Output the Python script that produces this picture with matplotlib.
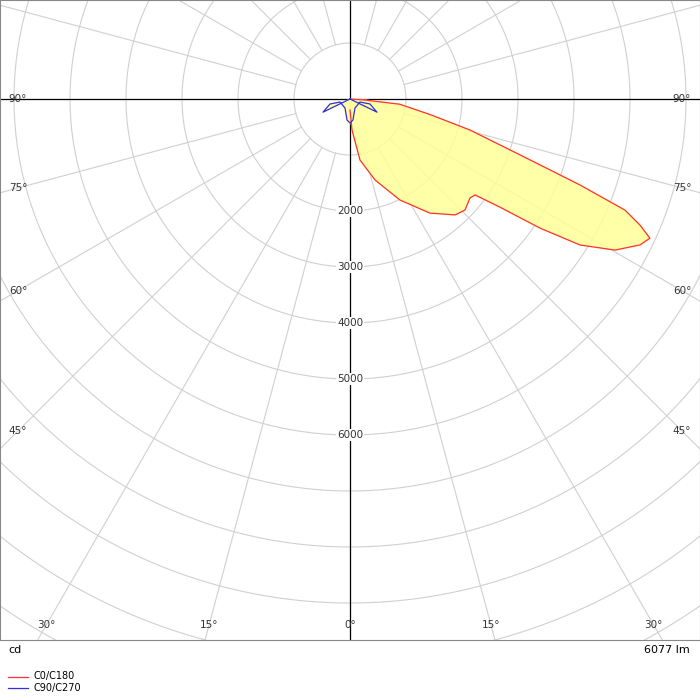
import numpy as np
import matplotlib
matplotlib.use("Agg")
import matplotlib.pyplot as plt

# C0/C180 curve: angle from nadir (deg, + = right), intensity (cd)
c0_angles = [0, 86, 84, 79, 75.5, 71.8, 69.5, 68, 66.5, 65.1, 63.3, 60.3, 57.6, 55.8, 54.2,
             52.5, 50.5, 46, 42.2, 35, 26.3, 17.2, 9.3, 3.7, 0]
c0_cd = [0, 268, 893, 1457, 2213, 3196, 4386, 5296, 5646, 5904, 5798, 5446, 4865, 4101, 3300,
         2814, 2778, 2854, 2794, 2487, 2012, 1514, 1104, 554, 196]
# C90/C270 curve
c90_angles = [-90, -64, -76, -73, -29, -8, 0, 8, 29, 73, 76, 64, 90]
c90_cd = [0, 536, 368, 186, 184, 379, 429, 379, 184, 186, 368, 536, 0]
ring_labels = [2000, 3000, 4000, 5000, 6000]
angle_labels = [90, 75, 60, 45, 30, 15, 0]

S = 1000 / 56.0  # cd per pixel
W, H = 700, 640
cx, cy = 350, 99

fig = plt.figure(figsize=(7, 7), dpi=100)
ax = fig.add_axes([0, 60 / 700, 1, 640 / 700])
ax.set_xlim(-cx * S, (W - cx) * S)
ax.set_ylim(-(H - cy) * S, cy * S)
ax.set_aspect('auto')
ax.set_xticks([]); ax.set_yticks([])
for s in ax.spines.values():
    s.set_color('#888888')

def xy(a, r):
    a = np.radians(np.asarray(a, float))
    r = np.asarray(r, float)
    return r * np.sin(a), -r * np.cos(a)

gc = '#d0d0d0'
for r in range(1000, 16000, 1000):
    t = np.linspace(0, 2 * np.pi, 400)
    ax.plot(r * np.cos(t), r * np.sin(t), color=gc, lw=0.8, zorder=1)
for a in range(0, 360, 15):
    x0, y0 = xy(a, 1000); x1, y1 = xy(a, 20000)
    ax.plot([x0, x1], [y0, y1], color=gc, lw=0.8, zorder=1)
ax.axhline(0, color='black', lw=0.9, zorder=2)
ax.axvline(0, color='black', lw=0.9, zorder=2)

x, y = xy(c0_angles, c0_cd)
ax.fill(x, y, color='#ffff99', alpha=0.85, zorder=3)
ax.plot(x, y, color='#ff3030', lw=0.9, zorder=4)
x, y = xy(c90_angles, c90_cd)
ax.fill(x, y, color='#ffff99', alpha=0.85, zorder=3)
ax.plot(x, y, color='#3030dd', lw=0.9, zorder=4)

fs = 7.5
for v in ring_labels:
    ax.text(0, -v, str(v), ha='center', va='center', fontsize=fs, color='#333333',
            bbox=dict(facecolor='white', edgecolor='none', pad=0.5), zorder=5)
for a in angle_labels:
    if a >= 45:
        dxp = cx - 18
        dyp = dxp / np.tan(np.radians(a)) if a < 90 else 0
        for sgn in (-1, 1):
            ax.text(sgn * dxp * S, -dyp * S, f"{a}°", ha='center', va='center', fontsize=fs, color='#333333')
    else:
        dyp = 625 - cy
        dxp = dyp * np.tan(np.radians(a))
        sgns = (-1, 1) if a else (1,)
        for sgn in sgns:
            ax.text(sgn * dxp * S, -dyp * S, f"{a}°", ha='center', va='center', fontsize=fs, color='#333333')

fig.text(8 / 700, 1 - 650 / 700, "cd", fontsize=8, va='center', ha='left')
fig.text(690 / 700, 1 - 650 / 700, "6077 lm", fontsize=8, va='center', ha='right')
fig.lines.append(plt.Line2D([8 / 700, 28 / 700], [1 - 677 / 700] * 2, color='#ff3030', lw=0.9, transform=fig.transFigure))
fig.lines.append(plt.Line2D([8 / 700, 28 / 700], [1 - 688 / 700] * 2, color='#3030dd', lw=0.9, transform=fig.transFigure))
fig.text(34 / 700, 1 - 676 / 700, "C0/C180", fontsize=7, va='center')
fig.text(34 / 700, 1 - 688 / 700, "C90/C270", fontsize=7, va='center')
fig.savefig("out.png", dpi=100)
